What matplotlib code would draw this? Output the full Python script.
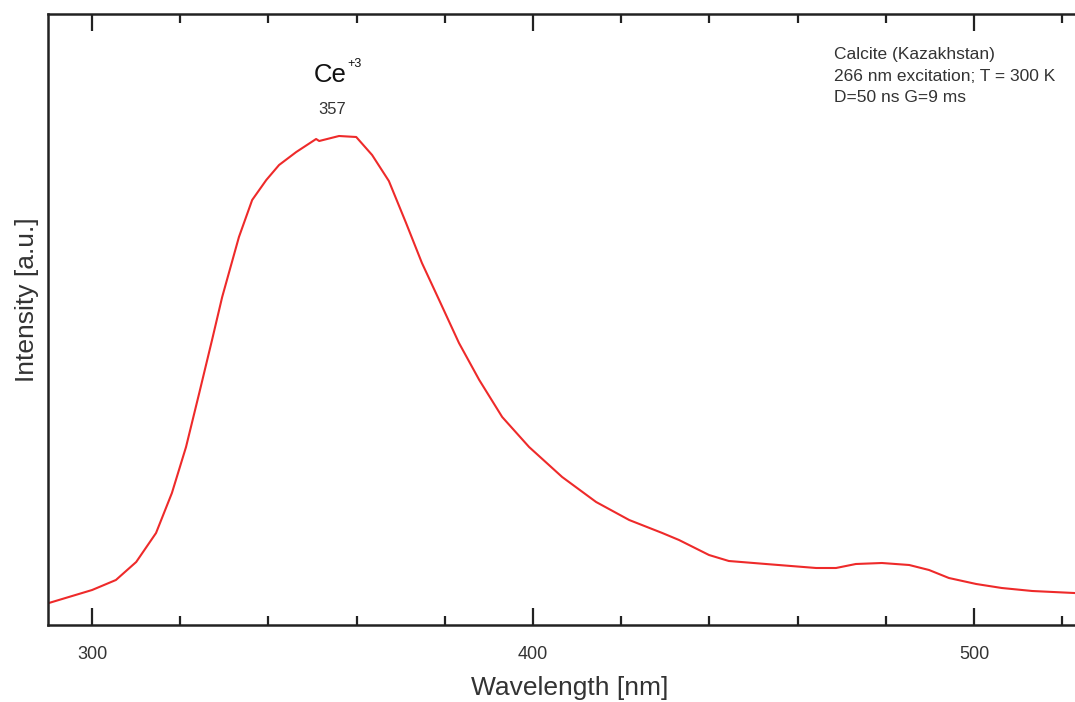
import matplotlib
matplotlib.use("Agg")
import matplotlib.pyplot as plt
from matplotlib.ticker import MultipleLocator

plt.rcParams['font.family'] = ['Liberation Sans', 'DejaVu Sans']

# spectrum (wavelength nm, intensity a.u.)
wavelength = [290.2, 300.0, 305.4, 310.0, 314.5, 318.1, 321.3, 324.3, 327.2, 329.5,
              333.3, 336.3, 339.5, 342.4, 346.3, 350.8, 351.5, 356.0, 359.9, 363.5, 367.3,
              371.2, 374.8, 378.7, 383.2, 387.8, 393.0, 399.1, 406.6, 414.3, 421.8,
              429.3, 433.1, 439.9, 444.4, 452.8, 464.2, 468.7, 473.2, 479.1, 485.3,
              489.8, 494.3, 500.5, 506.3, 513.2, 522.7]
intensity = [22, 35, 45, 63, 92, 132, 178, 232, 285, 328,
             388, 425, 445, 460, 473, 486, 484, 489, 488, 470, 444,
             402, 362, 325, 282, 245, 208, 178, 148, 123, 105,
             92, 85, 70, 64, 61, 57, 57, 61, 62, 60,
             55, 47, 41, 37, 34, 32]

info_lines = ["Calcite (Kazakhstan)", "266 nm excitation; T = 300 K", "D=50 ns G=9 ms"]
peak_label = "357"

txt = '#333333'

fig = plt.figure(figsize=(10.75, 7.02), dpi=100)
ax = fig.add_axes([48 / 1075, 77 / 702, 1027 / 1075, 611 / 702])

ax.plot(wavelength, intensity, color='#ee2a2a', lw=1.5)

ax.set_xlim(290, 522.9)
ax.set_ylim(0, 611)

ax.xaxis.set_major_locator(MultipleLocator(100))
ax.xaxis.set_minor_locator(MultipleLocator(20))
ax.set_yticks([])
ax.tick_params(axis='x', which='both', direction='in', top=True, bottom=True,
               width=1.6, color='#222222', labelsize=13, labelcolor=txt, pad=15)
ax.tick_params(axis='x', which='major', length=12)
ax.tick_params(axis='x', which='minor', length=6.5)

ax.spines['right'].set_visible(False)
for s in ['left', 'bottom', 'top']:
    ax.spines[s].set_linewidth(1.8)
    ax.spines[s].set_color('#222222')

ax.set_xlabel("Wavelength [nm]", fontsize=19, color=txt)
ax.xaxis.label.set_va('center')
ax.xaxis.set_label_coords(0.508, -0.103)
ax.set_ylabel("Intensity [a.u.]", fontsize=19, color=txt)
ax.yaxis.label.set_va('center')
ax.yaxis.set_label_coords(-0.020, 0.532)

# peak annotation
ax.text(350.3, 543, "Ce", fontsize=18.5, color='#111111', ha='left', va='baseline')
ax.text(357.8, 558, "+3", fontsize=9, color='#111111', ha='left', va='baseline')
ax.text(354.5, 515, peak_label, fontsize=12, color=txt, ha='center', va='center')

ax.text(0.765, 0.946, "\n".join(info_lines), transform=ax.transAxes, fontsize=12.5,
        color=txt, ha='left', va='top', linespacing=1.55)

fig.savefig("out.png", dpi=100)
